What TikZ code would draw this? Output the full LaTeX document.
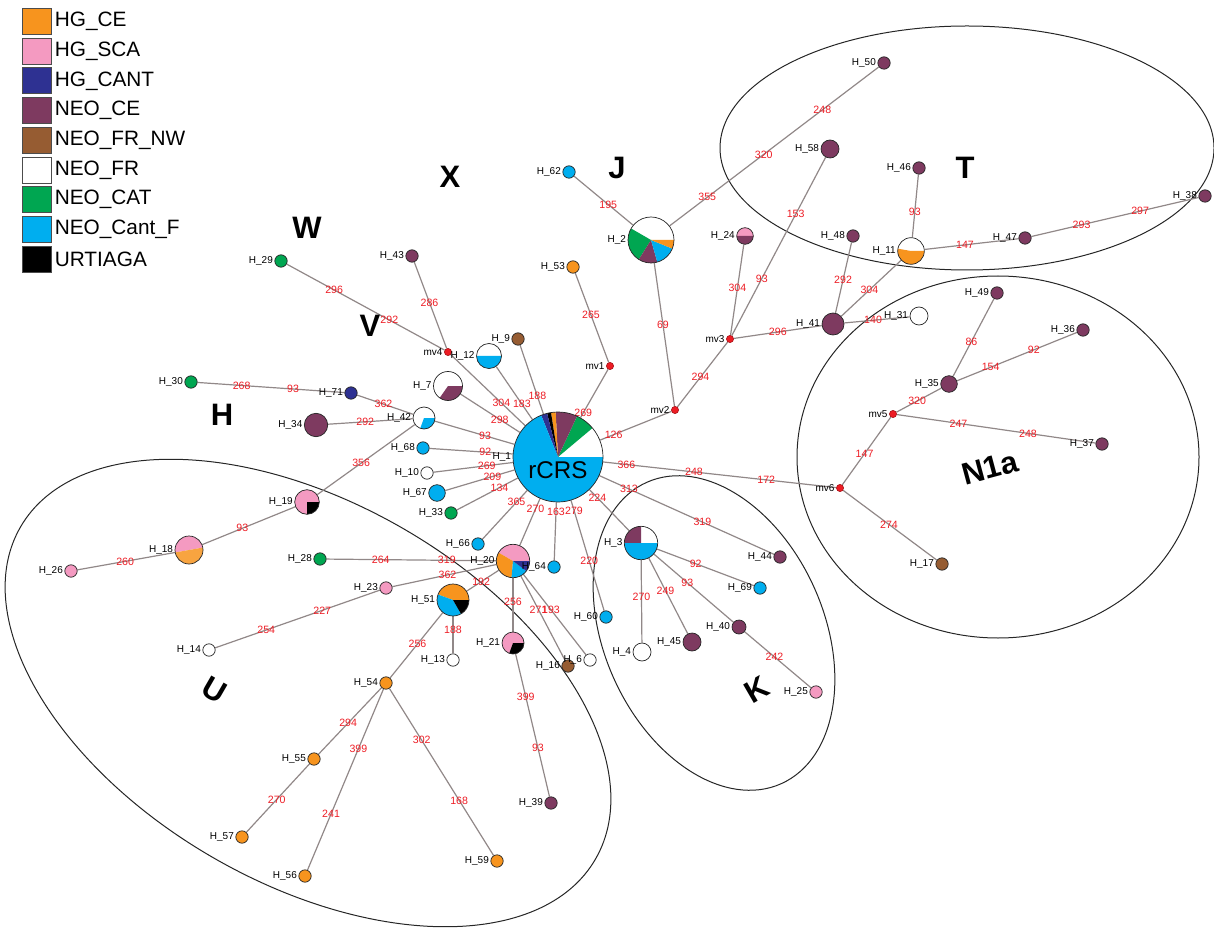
\documentclass[tikz,border=0pt]{standalone}
\usepackage{fontspec}
\setmainfont{Liberation Sans}
\usepackage{tikz}
\usetikzlibrary{positioning}

\definecolor{hgce}{RGB}{247,148,30}
\definecolor{hgsca}{RGB}{244,154,193}
\definecolor{hgcant}{RGB}{46,49,146}
\definecolor{neoce}{RGB}{126,58,96}
\definecolor{neofrnw}{RGB}{150,92,50}
\definecolor{neocat}{RGB}{0,166,81}
\definecolor{neocant}{RGB}{0,174,239}
\definecolor{mutred}{RGB}{237,28,36}
\definecolor{linkgray}{RGB}{145,136,136}

\pgfdeclarelayer{edges}
\pgfdeclarelayer{pies}
\pgfsetlayers{edges,pies,main}

\tikzset{
    hap/.style={circle, draw=black!85, line width=0.35pt, inner sep=0pt, minimum size=6.2pt},
    mv/.style={circle, fill=mutred, draw=mutred!70!black, line width=0.3pt, inner sep=0pt, minimum size=3.6pt},
    nlab/.style={font=\fontsize{5}{6}\selectfont, inner sep=0.6pt},
    elab/.style={font=\fontsize{5.3}{6}\selectfont, text=mutred, inner sep=0pt},
    link/.style={draw=linkgray, line width=0.6pt},
    group/.style={font=\fontsize{15.5}{17}\selectfont\bfseries, inner sep=0pt},
    zone/.style={draw=black!85, line width=0.5pt},
    legbox/.style={draw=black!70, line width=0.4pt, minimum width=14.5pt, minimum height=13pt, inner sep=0pt},
    legtxt/.style={font=\fontsize{10.4}{12}\selectfont, inner sep=0pt},
}

% one coloured sector of a haplotype pie
\newcommand{\hapslice}[5]{%
    \fill[#5] (#1.center) -- ++(#3:#2) arc[start angle=#3, end angle=#4, radius=#2] -- cycle;}

\begin{document}
\begin{tikzpicture}[x=0.5pt, y=-0.5pt]
    \useasboundingbox (0,0) rectangle (1214,930);

    % legend
    \foreach \c/\t [count=\i] in {hgce/HG\_CE, hgsca/HG\_SCA, hgcant/HG\_CANT, neoce/NEO\_CE,
        neofrnw/NEO\_FR\_NW, white/NEO\_FR, neocat/NEO\_CAT, neocant/NEO\_Cant\_F, black/URTIAGA}{
        \node[legbox, fill=\c] (lg\i) at (36.5, {21.5+29.7*(\i-1)}) {};
        \node[legtxt, right=1.5pt of lg\i] (lt\i) {\t};
    }

    % root
    \node[hap, minimum size=45pt, label={[nlab]left:H\_1},
        label={[font=\fontsize{12.1}{13}\selectfont, yshift=-6.5pt]center:rCRS}] (rcrs) at (558,457) {};

    % median vectors
    \node[mv, label={[nlab]left:mv1}] (mv1) at (610,366) {};
    \node[mv, label={[nlab]left:mv2}] (mv2) at (675,410) {};
    \node[mv, label={[nlab]left:mv3}] (mv3) at (730,339) {};
    \node[mv, label={[nlab]left:mv4}] (mv4) at (448,352) {};
    \node[mv, label={[nlab]left:mv5}] (mv5) at (893,414) {};
    \node[mv, label={[nlab]left:mv6}] (mv6) at (840,488) {};

    % haplotypes, upper left
    \node[hap, minimum size=23pt, label={[nlab]left:H\_2}] (h2) at (651,240) {};
    \node[hap, fill=neocant, label={[nlab]left:H\_62}] (h62) at (569,172) {};
    \node[hap, fill=hgce, label={[nlab]left:H\_53}] (h53) at (573,267) {};
    \node[hap, fill=neoce, label={[nlab]left:H\_43}] (h43) at (412,256) {};
    \node[hap, minimum size=12.5pt, label={[nlab]left:H\_12}] (h12) at (489,356) {};
    \node[hap, fill=neofrnw, label={[nlab]left:H\_9}] (h9) at (518,339) {};
    \node[hap, minimum size=14.5pt, label={[nlab]left:H\_7}] (h7) at (448,386) {};
    \node[hap, fill=neocat, label={[nlab]left:H\_29}] (h29) at (281,261) {};
    \node[hap, fill=neocat, label={[nlab]left:H\_30}] (h30) at (191,382) {};
    \node[hap, fill=hgcant, label={[nlab]left:H\_71}] (h71) at (351,393) {};
    \node[hap, fill=neoce, minimum size=11.7pt, label={[nlab]left:H\_34}] (h34) at (316,425) {};
    \node[hap, minimum size=11pt, label={[nlab]left:H\_42}] (h42) at (424,418) {};
    \node[hap, fill=neocant, label={[nlab]left:H\_68}] (h68) at (423,448) {};
    \node[hap, fill=white, label={[nlab]left:H\_10}] (h10) at (427,473) {};
    \node[hap, fill=neocant, minimum size=8.3pt, label={[nlab]left:H\_67}] (h67) at (437,493) {};
    \node[hap, fill=neocat, label={[nlab]left:H\_33}] (h33) at (451,513) {};
    \node[hap, fill=neocant, label={[nlab]left:H\_66}] (h66) at (478,544) {};

    % haplotypes, group U
    \node[hap, minimum size=16.7pt, label={[nlab]left:H\_20}] (h20) at (513,561) {};
    \node[hap, fill=neocant, label={[nlab]left:H\_64}] (h64) at (554,567) {};
    \node[hap, minimum size=16pt, label={[nlab]left:H\_51}] (h51) at (453,600) {};
    \node[hap, fill=white, label={[nlab]left:H\_13}] (h13) at (453,660) {};
    \node[hap, minimum size=11pt, label={[nlab]left:H\_21}] (h21) at (513,643) {};
    \node[hap, fill=neofrnw, label={[nlab]left:H\_16}] (h16) at (568,666) {};
    \node[hap, fill=white, label={[nlab]left:H\_6}] (h6) at (590,660) {};
    \node[hap, fill=neocant, label={[nlab]left:H\_60}] (h60) at (606,617) {};
    \node[hap, fill=neocat, label={[nlab]left:H\_28}] (h28) at (320,559) {};
    \node[hap, fill=hgsca, label={[nlab]left:H\_23}] (h23) at (386,588) {};
    \node[hap, fill=white, label={[nlab]left:H\_14}] (h14) at (209,650) {};
    \node[hap, minimum size=12.3pt, label={[nlab]left:H\_19}] (h19) at (307,502) {};
    \node[hap, minimum size=14pt, label={[nlab]left:H\_18}] (h18) at (189,550) {};
    \node[hap, fill=hgsca, label={[nlab]left:H\_26}] (h26) at (71,571) {};
    \node[hap, fill=hgce, label={[nlab]left:H\_54}] (h54) at (386,683) {};
    \node[hap, fill=hgce, label={[nlab]left:H\_55}] (h55) at (314,759) {};
    \node[hap, fill=hgce, label={[nlab]left:H\_57}] (h57) at (242,837) {};
    \node[hap, fill=hgce, label={[nlab]left:H\_56}] (h56) at (305,876) {};
    \node[hap, fill=hgce, label={[nlab]left:H\_59}] (h59) at (497,861) {};
    \node[hap, fill=neoce, label={[nlab]left:H\_39}] (h39) at (551,803) {};

    % haplotypes, group K
    \node[hap, minimum size=16.7pt, label={[nlab]left:H\_3}] (h3) at (641,543) {};
    \node[hap, fill=neoce, label={[nlab]left:H\_44}] (h44) at (780,557) {};
    \node[hap, fill=neocant, label={[nlab]left:H\_69}] (h69) at (760,588) {};
    \node[hap, fill=neoce, minimum size=7pt, label={[nlab]left:H\_40}] (h40) at (739,627) {};
    \node[hap, fill=neoce, minimum size=9pt, label={[nlab]left:H\_45}] (h45) at (692,642) {};
    \node[hap, fill=white, minimum size=9pt, label={[nlab]left:H\_4}] (h4) at (642,652) {};
    \node[hap, fill=hgsca, label={[nlab]left:H\_25}] (h25) at (816,692) {};

    % haplotypes, groups T and N1a
    \node[hap, fill=neoce, minimum size=11pt, label={[nlab]left:H\_41}] (h41) at (833,324) {};
    \node[hap, fill=white, minimum size=9pt, label={[nlab]left:H\_31}] (h31) at (919,316) {};
    \node[hap, fill=neoce, label={[nlab]left:H\_49}] (h49) at (997,293) {};
    \node[hap, fill=neoce, label={[nlab]left:H\_36}] (h36) at (1083,330) {};
    \node[hap, fill=neoce, minimum size=8.3pt, label={[nlab]left:H\_35}] (h35) at (949,384) {};
    \node[hap, fill=neoce, label={[nlab]left:H\_37}] (h37) at (1102,444) {};
    \node[hap, fill=neofrnw, label={[nlab]left:H\_17}] (h17) at (942,564) {};
    \node[hap, fill=neoce, label={[nlab]left:H\_50}] (h50) at (884,63) {};
    \node[hap, fill=neoce, minimum size=9pt, label={[nlab]left:H\_58}] (h58) at (830,149) {};
    \node[hap, minimum size=8.3pt, label={[nlab]left:H\_24}] (h24) at (745,236) {};
    \node[hap, fill=neoce, label={[nlab]left:H\_48}] (h48) at (853,236) {};
    \node[hap, minimum size=13.3pt, label={[nlab]left:H\_11}] (h11) at (911,251) {};
    \node[hap, fill=neoce, label={[nlab]left:H\_46}] (h46) at (919,168) {};
    \node[hap, fill=neoce, label={[nlab]left:H\_47}] (h47) at (1025,238) {};
    \node[hap, fill=neoce, label={[nlab]left:H\_38}] (h38) at (1205,196) {};

    % haplogroup names
    \node[group] (gx) at (450,177) {X};
    \node[group] (gj) at (617,168) {J};
    \node[group] (gw) at (307,228) {W};
    \node[group] (gv) at (370,326) {V};
    \node[group] (gh) at (222,415) {H};
    \node[group] (gt) at (965,168) {T};
    \node[group, rotate=-30] (gu) at (214,690) {U};
    \node[group, rotate=30] (gk) at (757,690) {K};
    \node[group, rotate=15] (gn) at (990,468) {N1a};

    % pie sectors
    \begin{pgfonlayer}{pies}
        \hapslice{rcrs}{22.5pt}{0}{40}{white}
        \hapslice{rcrs}{22.5pt}{40}{65}{neocat}
        \hapslice{rcrs}{22.5pt}{65}{93}{neoce}
        \hapslice{rcrs}{22.5pt}{93}{99}{hgce}
        \hapslice{rcrs}{22.5pt}{99}{104}{black}
        \hapslice{rcrs}{22.5pt}{104}{112}{hgcant}
        \hapslice{rcrs}{22.5pt}{112}{360}{neocant}
        \hapslice{h2}{11.5pt}{0}{150}{white}
        \hapslice{h2}{11.5pt}{150}{238}{neocat}
        \hapslice{h2}{11.5pt}{238}{286}{neoce}
        \hapslice{h2}{11.5pt}{286}{338}{neocant}
        \hapslice{h2}{11.5pt}{338}{360}{hgce}
        \hapslice{h12}{6.25pt}{0}{180}{white}
        \hapslice{h12}{6.25pt}{180}{360}{neocant}
        \hapslice{h7}{7.25pt}{0}{235}{white}
        \hapslice{h7}{7.25pt}{235}{360}{neoce}
        \hapslice{h42}{5.5pt}{0}{250}{white}
        \hapslice{h42}{5.5pt}{250}{360}{neocant}
        \hapslice{h20}{8.35pt}{0}{150}{hgsca}
        \hapslice{h20}{8.35pt}{150}{265}{hgce}
        \hapslice{h20}{8.35pt}{265}{323}{neocant}
        \hapslice{h20}{8.35pt}{323}{360}{hgcant}
        \hapslice{h51}{8pt}{0}{160}{hgce}
        \hapslice{h51}{8pt}{160}{300}{neocant}
        \hapslice{h51}{8pt}{300}{360}{black}
        \hapslice{h21}{5.5pt}{0}{250}{hgsca}
        \hapslice{h21}{5.5pt}{250}{360}{black}
        \hapslice{h19}{6.15pt}{0}{270}{hgsca}
        \hapslice{h19}{6.15pt}{270}{360}{black}
        \hapslice{h18}{7pt}{10}{190}{hgsca}
        \hapslice{h18}{7pt}{190}{370}{hgce!85!white}
        \hapslice{h3}{8.35pt}{0}{90}{white}
        \hapslice{h3}{8.35pt}{90}{180}{neoce}
        \hapslice{h3}{8.35pt}{180}{360}{neocant}
        \hapslice{h24}{4.15pt}{0}{180}{hgsca}
        \hapslice{h24}{4.15pt}{180}{360}{neoce}
        \hapslice{h11}{6.65pt}{0}{170}{white}
        \hapslice{h11}{6.65pt}{170}{360}{hgce}
    \end{pgfonlayer}

    \begin{pgfonlayer}{edges}
        % haplogroup outlines
        \draw[zone] (967,148) ellipse[x radius=123.5pt, y radius=61pt];
        \draw[zone] (998,457) ellipse[x radius=100.5pt, y radius=90.5pt];
        \draw[zone, rotate around={-66:(714,633)}] (714,633) ellipse[x radius=82.5pt, y radius=55pt];
        \draw[zone, rotate around={-30:(308,693)}] (308,693) ellipse[x radius=166pt, y radius=95pt];

        % links out of the root
        \draw[link] (rcrs) -- node[elab,pos=.32]{304} (mv4);
        \draw[link] (rcrs) -- node[elab,pos=.29]{183} (h12);
        \draw[link] (rcrs) -- node[elab,pos=.26]{188} (h9);
        \draw[link] (rcrs) -- node[elab,pos=.34]{298} (h7);
        \draw[link] (rcrs) -- node[elab,pos=.37]{93} (h42);
        \draw[link] (rcrs) -- node[elab,pos=.33]{92} (h68);
        \draw[link] (rcrs) -- node[elab,pos=.33]{269} (h10);
        \draw[link] (rcrs) -- node[elab,pos=.32]{209} (h67);
        \draw[link] (rcrs) -- node[elab,pos=.30]{134} (h33);
        \draw[link] (rcrs) -- node[elab,pos=.24]{365} (h66);
        \draw[link] (rcrs) -- node[elab,pos=.22]{270} (h20);
        \draw[link] (rcrs) -- node[elab,pos=.17]{163} (h64);
        \draw[link] (rcrs) -- node[elab,pos=.09]{279} node[elab,pos=.55]{220} (h60);
        \draw[link] (rcrs) -- node[elab,pos=.20]{224} (h3);
        \draw[link] (rcrs) -- node[elab,pos=.17]{313} node[elab,pos=.59]{319} (h44);
        \draw[link] (rcrs) -- node[elab,pos=.10]{366} node[elab,pos=.39]{248} node[elab,pos=.70]{172} (mv6);
        \draw[link] (rcrs) -- node[elab,pos=.19]{126} (mv2);
        \draw[link] (rcrs) -- node[elab,pos=.10]{269} (mv1);

        % upper branches
        \draw[link] (mv1) -- node[elab,pos=.53]{265} (h53);
        \draw[link] (mv2) -- node[elab,pos=.57]{69} (h2);
        \draw[link] (mv2) -- node[elab,pos=.46]{294} (mv3);
        \draw[link] (h2) -- node[elab,pos=.42]{195} (h62);
        \draw[link] (h2) -- node[elab,pos=.18]{355} node[elab,pos=.45]{320} node[elab,pos=.73]{248} (h50);
        \draw[link] (mv3) -- node[elab,pos=.52]{304} (h24);
        \draw[link] (mv3) -- node[elab,pos=.32]{93} node[elab,pos=.68]{153} (h58);
        \draw[link] (mv3) -- node[elab,pos=.50]{296} (h41);
        \draw[link] (h41) -- node[elab,pos=.47]{292} (h48);
        \draw[link] (h41) -- node[elab,pos=.47]{304} (h11);
        \draw[link] (h41) -- node[elab,pos=.44]{140} (h31);
        \draw[link] (h11) -- node[elab,pos=.41]{93} (h46);
        \draw[link] (h11) -- node[elab,pos=.43]{147} (h47);
        \draw[link] (h47) -- node[elab,pos=.30]{293} node[elab,pos=.65]{297} (h38);

        % N1a
        \draw[link] (mv5) -- node[elab,pos=.46]{320} (h35);
        \draw[link] (h35) -- node[elab,pos=.45]{86} (h49);
        \draw[link] (h35) -- node[elab,pos=.28]{154} node[elab,pos=.64]{92} (h36);
        \draw[link] (mv5) -- node[elab,pos=.31]{247} node[elab,pos=.66]{248} (h37);
        \draw[link] (mv5) -- node[elab,pos=.54]{147} (mv6);
        \draw[link] (mv6) -- node[elab,pos=.49]{274} (h17);

        % K
        \draw[link] (h3) -- node[elab,pos=.40]{92} (h69);
        \draw[link] (h3) -- node[elab,pos=.42]{93} (h40);
        \draw[link] (h40) -- node[elab,pos=.45]{242} (h25);
        \draw[link] (h3) -- node[elab,pos=.43]{249} (h45);
        \draw[link] (h3) -- node[elab,pos=.45]{270} (h4);

        % V, W, H
        \draw[link] (mv4) -- node[elab,pos=.53]{286} (h43);
        \draw[link] (mv4) -- node[elab,pos=.35]{292} node[elab,pos=.70]{296} (h29);
        \draw[link] (h42) -- node[elab,pos=.53]{362} (h71);
        \draw[link] (h71) -- node[elab,pos=.35]{93} node[elab,pos=.70]{268} (h30);
        \draw[link] (h42) -- node[elab,pos=.56]{292} (h34);

        % U
        \draw[link] (h42) -- node[elab,pos=.55]{356} (h19);
        \draw[link] (h19) -- node[elab,pos=.57]{93} (h18);
        \draw[link] (h18) -- node[elab,pos=.51]{260} (h26);
        \draw[link] (h20) -- node[elab,pos=.29]{319} node[elab,pos=.68]{264} (h28);
        \draw[link] (h20) -- node[elab,pos=.47]{362} (h23);
        \draw[link] (h23) -- node[elab,pos=.35]{227} node[elab,pos=.69]{254} (h14);
        \draw[link] (h20) -- node[elab,pos=.55]{192} (h51);
        \draw[link] (h51) -- node[elab,pos=.37]{188} (h13);
        \draw[link] (h51) -- node[elab,pos=.48]{256} (h54);
        \draw[link] (h54) -- node[elab,pos=.53]{294} (h55);
        \draw[link] (h55) -- node[elab,pos=.52]{270} (h57);
        \draw[link] (h54) -- node[elab,pos=.33]{399} node[elab,pos=.69]{241} (h56);
        \draw[link] (h54) -- node[elab,pos=.31]{302} node[elab,pos=.67]{168} (h59);
        \draw[link] (h20) -- node[elab,pos=.45]{256} (h21);
        \draw[link] (h21) -- node[elab,pos=.30]{399} node[elab,pos=.66]{93} (h39);
        \draw[link] (h20) -- node[elab,pos=.40]{271} (h16);
        \draw[link] (h20) -- node[elab,pos=.44]{193} (h6);
    \end{pgfonlayer}
\end{tikzpicture}
\end{document}
